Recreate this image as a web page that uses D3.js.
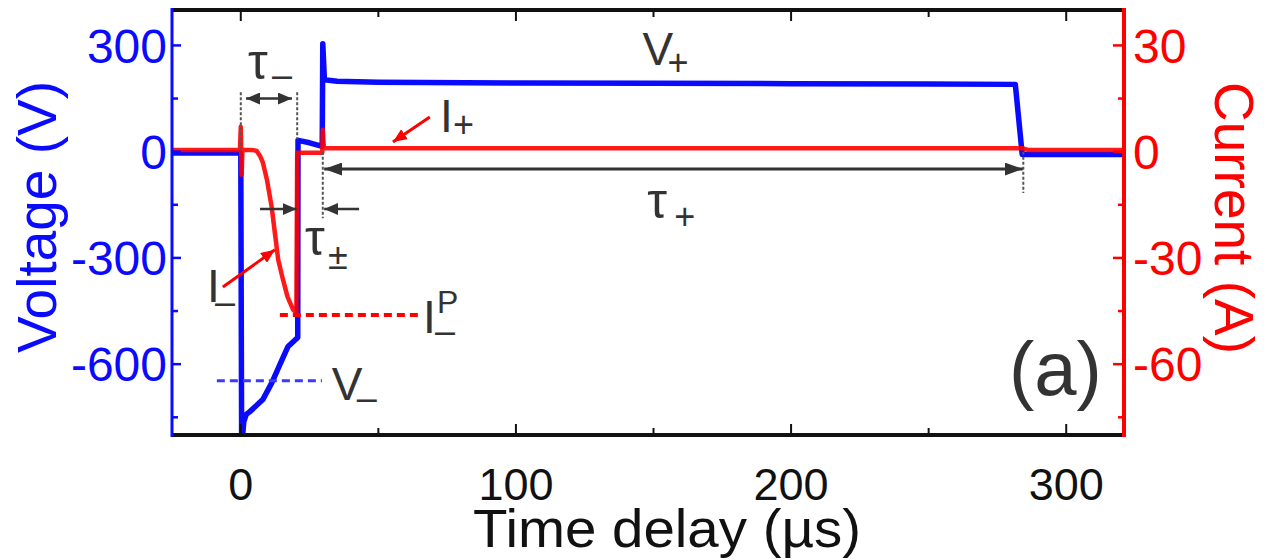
<!DOCTYPE html>
<html>
<head>
<meta charset="utf-8">
<script src="https://cdn.jsdelivr.net/npm/d3@7"></script>
<style>
  body { margin: 0; background: #fff; }
  text { font-family: "Liberation Sans", Arial, sans-serif; }
</style>
</head>
<body>
<div id="chart"></div>
<script>
// axis ticks
var timeTicks = [0, 100, 200, 300];
var timeMinor = [50, 150, 250];
var voltTicks = [300, 0, -300, -600];
var voltMinor = [150, -150, -450, -750];
var currTicks = [30, 0, -30, -60];
var currMinor = [15, -15, -45, -75];

// voltage trace (time in us, volts)
var voltT = [-25, -0.2, 0, 0.3, 0.7, 1.1, 2, 3.3, 8, 11.3, 14.2, 17.1, 20.7, 20.8, 25, 29.6, 29.8, 30.4, 35, 50, 100, 150, 200, 250, 281.5, 284, 321];
var voltV = [-4, -4, -5, -800, -800, -762, -742, -734, -700, -652, -601, -551, -525, 32, 25, 15, 305, 203, 199, 196, 194, 193, 192, 191, 190, -8, -8];

// current trace (time in us, amps)
var currT = [-25, -0.3, 0, 0.3, 0.6, 4, 5.8, 7, 8, 9.5, 11.2, 12.4, 13.6, 15.3, 17, 19, 20.2, 20.5, 25, 29.6, 29.8, 30.2, 40, 100, 200, 284, 286, 321];
var currI = [0.5, 0.5, 7, -6.5, 0.5, 0.5, 0.2, -1.2, -3, -7.9, -15.5, -23, -30.5, -36, -41, -44.6, -45.5, -0.3, -0.3, -0.3, 6.2, 1, 1, 1, 1, 1, 0.5, 0.5];

// annotation positions in data units
var tauMinus = {t0: 1.9, t1: 18.6, v: 150, lines: [0, 20.5], top: 168, bottoms: [0, 35], labelT: 2.6, labelV: 205};
var tauPM = {line: 29.8, top: 0, bottom: -188, v: -162, leftFrom: 7, leftTo: 20.3, rightFrom: 43, rightTo: 30.3, labelT: 23.3, labelV: -292};
var tauPlus = {t0: 30.3, t1: 284.2, v: -49, line: 284.4, bottom: -117, labelT: 147.7, labelV: -187};
var vPlusLabel = {t: 146, v: 245};
var vMinus = {t0: -8.7, t1: 29.5, v: -647, labelT: 33.1, labelV: -701};
var iPlus = {from: [68.7, 9.8], to: [55.3, 2.7], labelT: 72.4, labelI: 5.6};
var iMinus = {from: [-6.5, -38.2], to: [12.4, -27.7], labelT: -12.3, labelI: -42.4};
var iPeak = {t0: 14.2, t1: 64.4, i: -46.1, labelT: 66.2, labelI: -51.2};

var W = 1266, H = 560;
var pLeft = 172, pRight = 1124, pTop = 10, pBottom = 435;

var svg = d3.select("#chart").append("svg")
    .attr("width", W)
    .attr("height", H);

var x = d3.scaleLinear().domain([-25, 321]).range([pLeft, pRight]);
var yV = d3.scaleLinear().domain([-800, 400]).range([pBottom, pTop]);
var yI = d3.scaleLinear().domain([-80, 40]).range([pBottom, pTop]);

var blue = "#0a0aff", red = "#ff0000", ink = "#333";

// arrow heads
var defs = svg.append("defs");
function marker(id, len, wid, color) {
  defs.append("marker")
      .attr("id", id)
      .attr("viewBox", "0 0 " + len + " " + wid)
      .attr("refX", len).attr("refY", wid / 2)
      .attr("markerUnits", "userSpaceOnUse")
      .attr("markerWidth", len).attr("markerHeight", wid)
      .attr("orient", "auto-start-reverse")
    .append("path")
      .attr("d", "M0,0L" + len + "," + (wid / 2) + "L0," + wid + "Z")
      .attr("fill", color);
}
marker("ah", 14, 12, ink);
marker("ahBig", 18, 13, ink);
marker("ahRed", 14, 12, red);

svg.append("clipPath").attr("id", "clip")
  .append("rect").attr("x", pLeft).attr("y", pTop)
  .attr("width", pRight - pLeft).attr("height", pBottom - pTop);

// traces
var vData = voltT.map(function(t, i) { return [t, voltV[i]]; });
var iData = currT.map(function(t, i) { return [t, currI[i]]; });

var g = svg.append("g").attr("clip-path", "url(#clip)");
g.append("path")
    .datum(vData)
    .attr("d", d3.line().x(function(d) { return x(d[0]); }).y(function(d) { return yV(d[1]); }))
    .attr("fill", "none").attr("stroke", blue).attr("stroke-width", 5.5)
    .attr("stroke-linejoin", "round");
g.append("path")
    .datum(iData)
    .attr("d", d3.line().x(function(d) { return x(d[0]); }).y(function(d) { return yI(d[1]); }))
    .attr("fill", "none").attr("stroke", red).attr("stroke-width", 4.5)
    .attr("stroke-opacity", 0.9)
    .attr("stroke-linejoin", "round");

// dashed guide lines
var dash = "3,2";
tauMinus.lines.forEach(function(t, i) {
  svg.append("line")
      .attr("x1", x(t)).attr("x2", x(t))
      .attr("y1", yV(tauMinus.top)).attr("y2", yV(tauMinus.bottoms[i]))
      .attr("stroke", "#555").attr("stroke-width", 2).attr("stroke-dasharray", dash);
});
svg.append("line")
    .attr("x1", x(tauPM.line)).attr("x2", x(tauPM.line))
    .attr("y1", yV(tauPM.top)).attr("y2", yV(tauPM.bottom))
    .attr("stroke", "#555").attr("stroke-width", 2).attr("stroke-dasharray", dash);
svg.append("line")
    .attr("x1", x(tauPlus.line)).attr("x2", x(tauPlus.line))
    .attr("y1", yV(0)).attr("y2", yV(tauPlus.bottom))
    .attr("stroke", "#555").attr("stroke-width", 2).attr("stroke-dasharray", dash);

// blue V- level, red I-p level
svg.append("line")
    .attr("x1", x(vMinus.t0)).attr("x2", x(vMinus.t1))
    .attr("y1", yV(vMinus.v)).attr("y2", yV(vMinus.v))
    .attr("stroke", "#3a3aff").attr("stroke-width", 3).attr("stroke-dasharray", "8,5");
svg.append("line")
    .attr("x1", x(iPeak.t0)).attr("x2", x(iPeak.t1))
    .attr("y1", yI(iPeak.i)).attr("y2", yI(iPeak.i))
    .attr("stroke", red).attr("stroke-width", 4).attr("stroke-dasharray", "8,5");

// arrows
function arrow(x1, y1, x2, y2, head, both, color, w) {
  var l = svg.append("line")
      .attr("x1", x1).attr("y1", y1).attr("x2", x2).attr("y2", y2)
      .attr("stroke", color).attr("stroke-width", w)
      .attr("marker-end", "url(#" + head + ")");
  if (both) l.attr("marker-start", "url(#" + head + ")");
}
arrow(x(tauMinus.t0), yV(tauMinus.v), x(tauMinus.t1), yV(tauMinus.v), "ah", true, ink, 2.5);
arrow(x(tauPM.leftFrom), yV(tauPM.v), x(tauPM.leftTo), yV(tauPM.v), "ah", false, ink, 2.5);
arrow(x(tauPM.rightFrom), yV(tauPM.v), x(tauPM.rightTo), yV(tauPM.v), "ah", false, ink, 2.5);
arrow(x(tauPlus.t0), yV(tauPlus.v), x(tauPlus.t1), yV(tauPlus.v), "ahBig", true, ink, 3);
arrow(x(iPlus.from[0]), yI(iPlus.from[1]), x(iPlus.to[0]), yI(iPlus.to[1]), "ahRed", false, red, 3);
arrow(x(iMinus.from[0]), yI(iMinus.from[1]), x(iMinus.to[0]), yI(iMinus.to[1]), "ahRed", false, red, 3);

// frame: top and bottom black, left blue, right red
svg.append("line").attr("x1", pLeft - 1).attr("x2", pRight + 1).attr("y1", pTop).attr("y2", pTop)
    .attr("stroke", "#111").attr("stroke-width", 4);
svg.append("line").attr("x1", pLeft - 1).attr("x2", pRight + 1).attr("y1", pBottom).attr("y2", pBottom)
    .attr("stroke", "#111").attr("stroke-width", 4);

// time ticks (bottom and top, inward)
timeTicks.concat(timeMinor).forEach(function(t) {
  var len = timeTicks.indexOf(t) >= 0 ? 11 : 7;
  svg.append("line").attr("x1", x(t)).attr("x2", x(t))
      .attr("y1", pBottom).attr("y2", pBottom - len).attr("stroke", "#111").attr("stroke-width", 2);
  svg.append("line").attr("x1", x(t)).attr("x2", x(t))
      .attr("y1", pTop).attr("y2", pTop + len).attr("stroke", "#111").attr("stroke-width", 2);
});
svg.selectAll(".tlab").data(timeTicks).enter().append("text")
    .attr("x", function(d) { return x(d); })
    .attr("y", 500)
    .attr("text-anchor", "middle")
    .attr("font-size", 45)
    .attr("fill", "#111")
    .text(function(d) { return d; });

// voltage axis
svg.append("line").attr("x1", pLeft).attr("x2", pLeft).attr("y1", pTop - 2).attr("y2", pBottom + 2)
    .attr("stroke", blue).attr("stroke-width", 3);
voltTicks.concat(voltMinor).forEach(function(v) {
  var len = voltTicks.indexOf(v) >= 0 ? 9 : 6;
  svg.append("line").attr("x1", pLeft).attr("x2", pLeft + len)
      .attr("y1", yV(v)).attr("y2", yV(v)).attr("stroke", blue).attr("stroke-width", 2.5);
});
svg.selectAll(".vlab").data(voltTicks).enter().append("text")
    .attr("x", 167)
    .attr("y", function(d) { return yV(d); })
    .attr("dy", "0.36em")
    .attr("text-anchor", "end")
    .attr("font-size", 48)
    .attr("fill", blue)
    .text(function(d) { return d; });
svg.append("text")
    .attr("transform", "translate(56," + 217 + ") rotate(-90)")
    .attr("text-anchor", "middle")
    .attr("font-size", 55)
    .attr("fill", blue)
    .text("Voltage (V)");

// current axis
svg.append("line").attr("x1", pRight).attr("x2", pRight).attr("y1", pTop - 2).attr("y2", pBottom + 2)
    .attr("stroke", red).attr("stroke-width", 4);
currTicks.concat(currMinor).forEach(function(c) {
  var len = currTicks.indexOf(c) >= 0 ? 11 : 6;
  svg.append("line").attr("x1", pRight).attr("x2", pRight - len)
      .attr("y1", yI(c)).attr("y2", yI(c)).attr("stroke", red).attr("stroke-width", 2.5);
});
svg.selectAll(".clab").data(currTicks).enter().append("text")
    .attr("x", 1133)
    .attr("y", function(d) { return yI(d); })
    .attr("dy", "0.36em")
    .attr("text-anchor", "start")
    .attr("font-size", 48)
    .attr("fill", red)
    .text(function(d) { return d; });
svg.append("text")
    .attr("transform", "translate(1215," + 218 + ") rotate(90)")
    .attr("text-anchor", "middle")
    .attr("font-size", 55)
    .attr("fill", red)
    .text("Current (A)");

// x title
svg.append("text")
    .attr("x", 667).attr("y", 547)
    .attr("text-anchor", "middle")
    .attr("font-size", 53)
    .attr("textLength", 388)
    .attr("lengthAdjust", "spacingAndGlyphs")
    .attr("fill", "#111")
    .text("Time delay (\u00b5s)");

// annotation labels
function label(px, py, main, sub, subDx, subDy, sup, supDx, supDy) {
  svg.append("text").attr("x", px).attr("y", py)
      .attr("font-size", 46).attr("fill", ink).text(main);
  if (sub) svg.append("text").attr("x", px + subDx).attr("y", py + subDy)
      .attr("font-size", 36).attr("fill", ink).text(sub);
  if (sup) svg.append("text").attr("x", px + supDx).attr("y", py + supDy)
      .attr("font-size", 32).attr("fill", ink).text(sup);
}
function tau(px, py, sub, subDx, subDy) {
  svg.append("text").attr("x", px).attr("y", py)
      .attr("font-family", "DejaVu Sans").attr("font-size", 50).attr("fill", ink).text("\u03c4");
  svg.append("text").attr("x", px + subDx).attr("y", py + subDy)
      .attr("font-size", 36).attr("fill", ink).text(sub);
}
tau(x(tauMinus.labelT), yV(tauMinus.labelV), "\u2013", 24, 8);
tau(x(tauPM.labelT), yV(tauPM.labelV), "\u00b1", 23, 14);
tau(x(tauPlus.labelT), yV(tauPlus.labelV), "+", 27, 11);
label(x(vPlusLabel.t), yV(vPlusLabel.v), "V", "+", 25, 10);
label(x(vMinus.labelT), yV(vMinus.labelV), "V", "\u2013", 25, 10);
label(x(iPlus.labelT), yI(iPlus.labelI), "I", "+", 13, 5);
label(x(iMinus.labelT), yI(iMinus.labelI), "I", "\u2013", 8, 12);
label(x(iPeak.labelT), yI(iPeak.labelI), "I", "\u2013", 12, 10, "P", 14, -20);

// panel tag
svg.append("text")
    .attr("x", x(279.2)).attr("y", yV(-687))
    .attr("font-size", 76).attr("fill", ink)
    .text("(a)");
</script>
</body>
</html>
